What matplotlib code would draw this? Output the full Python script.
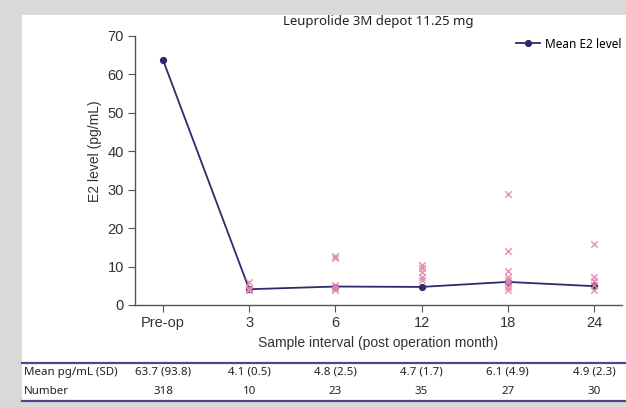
import matplotlib.pyplot as plt
from matplotlib.patches import Rectangle
from matplotlib.lines import Line2D

# 数据
categories = ["Pre-op", "3", "6", "12", "18", "24"]
mean_e2 = [63.7, 4.1, 4.8, 4.7, 6.0, 4.9]

# 各时间点的个体值（散点）
indiv_x = [1, 1, 1, 1,
           2, 2, 2, 2, 2,
           3, 3, 3, 3, 3,
           4, 4, 4, 4, 4, 4, 4, 4,
           5, 5, 5, 5, 5]
indiv_y = [6.0, 4.5, 3.8, 4.0,
           12.8, 12.3, 5.3, 4.4, 3.9,
           10.4, 9.5, 8.7, 7.4, 6.5,
           28.8, 14.0, 8.8, 7.4, 6.5, 5.6, 4.8, 3.9,
           15.8, 7.4, 6.3, 5.2, 3.9]

# 表格内容
row_labels = ["Mean pg/mL (SD)", "Number"]
mean_sd_text = ["63.7 (93.8)", "4.1 (0.5)", "4.8 (2.5)", "4.7 (1.7)", "6.1 (4.9)", "4.9 (2.3)"]
number_text = ["318", "10", "23", "35", "27", "30"]

W, H = 626, 407
navy = "#2c2b6c"
pink = "#e68bb0"

fig = plt.figure(figsize=(W / 100, H / 100), dpi=100)
fig.patch.set_facecolor("#d9d9d9")
# 白色面板
fig.patches.append(Rectangle((22 / W, 1 - 402 / H), (W - 22) / W, (402 - 15) / H,
                             transform=fig.transFigure, facecolor="white",
                             edgecolor="none", zorder=-10))

ax = fig.add_axes([135 / W, 1 - 305 / H, (622 - 135) / W, (305 - 35.7) / H])
ax.set_facecolor("none")
ax.set_zorder(1)

x = list(range(len(categories)))
ax.plot(x, mean_e2, color=navy, lw=1.3, marker="o", ms=4.2, zorder=3, label="Mean E2 level")
ax.scatter(indiv_x, indiv_y, marker="x", s=22, color=pink, linewidths=1.1, zorder=4,
           alpha=0.9)

ax.set_xlim(-0.325, 5.325)
ax.set_ylim(0, 70)
ax.set_yticks(range(0, 71, 10))
ax.set_xticks(x)
ax.set_xticklabels(categories)
for s in ["top", "right"]:
    ax.spines[s].set_visible(False)
for s in ["left", "bottom"]:
    ax.spines[s].set_color("#555555")
    ax.spines[s].set_linewidth(1.0)
ax.tick_params(direction="out", length=5, color="#555555", labelsize=10.5,
               labelcolor="#333333", pad=3)
for lab in ax.get_xticklabels() + ax.get_yticklabels():
    lab.set_fontfamily("Liberation Sans")

fig.text(95 / W, 1 - 151 / H, "E2 level (pg/mL)", rotation=90, ha="center", va="center",
         fontsize=10, color="#333333", family="Liberation Sans")
fig.text(378 / W, 1 - 343 / H, "Sample interval (post operation month)", ha="center",
         va="center", fontsize=10, color="#333333", family="Liberation Sans")
fig.text(378 / W, 1 - 21 / H, "Leuprolide 3M depot 11.25 mg", ha="center", va="center",
         fontsize=9.5, color="#222222", family="Noto Sans")

# 图例
ax.legend(handles=[Line2D([], [], color=navy, lw=1.3, marker="o", ms=4.2)],
          labels=["Mean E2 level"], loc="center right",
          bbox_to_anchor=(627 / W, 1 - 44 / H), bbox_transform=fig.transFigure,
          frameon=False, handlelength=2.0, handletextpad=0.4, borderpad=0,
          prop={"family": "Noto Sans", "size": 8.5})

# 表格
for yy in [363, 401]:
    fig.add_artist(Line2D([22 / W, 1], [1 - yy / H, 1 - yy / H], color="#4a4a8a",
                          lw=1.6, transform=fig.transFigure))
row_y = [372, 391]
for r, (lab, vals) in enumerate(zip(row_labels, [mean_sd_text, number_text])):
    fig.text(24 / W, 1 - row_y[r] / H, lab, ha="left", va="center", fontsize=8.3,
             color="#222222", family="Noto Sans")
    for i, v in enumerate(vals):
        px = ax.transData.transform((i, 0))[0]
        fig.text(px / W, 1 - row_y[r] / H, v, ha="center", va="center", fontsize=8.3,
                 color="#222222", family="Noto Sans")

fig.savefig("out.png", dpi=100, facecolor=fig.get_facecolor())
